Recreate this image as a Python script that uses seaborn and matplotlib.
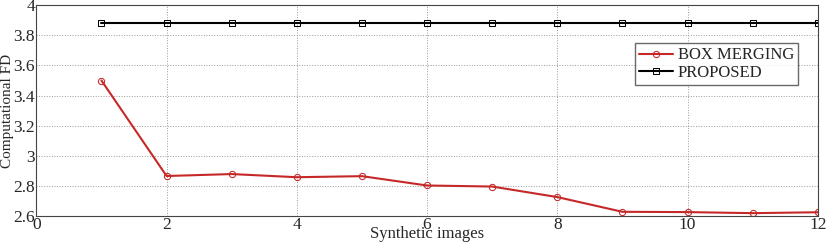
import matplotlib
matplotlib.use("Agg")
import matplotlib.pyplot as plt
import pandas as pd
import seaborn as sns

# values
images = [1, 2, 3, 4, 5, 6, 7, 8, 9, 10, 11, 12]
box_merging = [3.50, 2.865, 2.878, 2.857, 2.864, 2.802, 2.795, 2.725, 2.627, 2.625, 2.618, 2.624]
proposed = [3.88] * 12

sns.set_style("white")
plt.rcParams["font.family"] = ["Liberation Serif", "DejaVu Serif"]
plt.rcParams["font.size"] = 12

df = pd.DataFrame({"Synthetic images": images + images,
                   "FD": box_merging + proposed,
                   "method": ["BOX MERGING"] * 12 + ["PROPOSED"] * 12})

fig, ax = plt.subplots(figsize=(8.26, 2.42), dpi=100)
fig.subplots_adjust(left=0.044, right=0.99, top=0.978, bottom=0.108)

sns.lineplot(data=df[df.method == "BOX MERGING"], x="Synthetic images", y="FD",
             ax=ax, color="#c62828", marker="o", markersize=4.5, markerfacecolor="none",
             markeredgecolor="#c62828", linewidth=1.5, label="BOX MERGING")
sns.lineplot(data=df[df.method == "PROPOSED"], x="Synthetic images", y="FD",
             ax=ax, color="black", marker="s", markersize=4.5, markerfacecolor="none",
             markeredgecolor="black", linewidth=1.5, label="PROPOSED")

ax.set_xlim(0, 12)
ax.set_ylim(2.6, 4)
ax.set_xticks(range(0, 13, 2))
ax.set_yticks([2.6, 2.8, 3.0, 3.2, 3.4, 3.6, 3.8, 4.0])
ax.set_yticklabels(["2.6", "2.8", "3", "3.2", "3.4", "3.6", "3.8", "4"])
ax.grid(True, linestyle=":", color="#999999", linewidth=0.7)
ax.tick_params(direction="in", length=3, labelsize=12.5, pad=1)
for s in ax.spines.values():
    s.set_color("#444444")
    s.set_linewidth(0.8)
ax.set_xlabel("Synthetic images", fontsize=12, labelpad=-5)
ax.set_ylabel("Computational FD", fontsize=11)
ax.yaxis.set_label_coords(-0.028, 0.5)

ax.legend(loc="upper right", bbox_to_anchor=(0.975, 0.82), frameon=True, fancybox=False,
          edgecolor="#444444", fontsize=12, handlelength=2.0, borderpad=0.25,
          labelspacing=0.1, handletextpad=0.3, borderaxespad=0)

fig.savefig("out.png", dpi=100)
